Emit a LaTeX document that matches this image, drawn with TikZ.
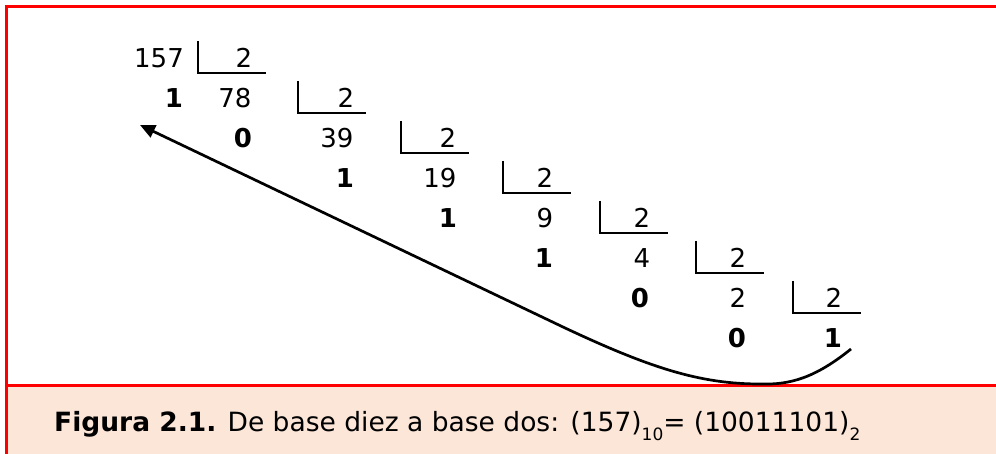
\documentclass[tikz,border=0pt]{standalone}
\usepackage{fontspec}
\setmainfont{DejaVu Sans}
\usetikzlibrary{arrows.meta}
\definecolor{framered}{RGB}{255,0,0}
\definecolor{capfill}{RGB}{251,230,216}
\newcommand{\subnum}[1]{\raisebox{-9pt}{\fontsize{17}{20}\selectfont #1}}
\begin{document}
\begin{tikzpicture}[x=1pt,y=-1pt,
  num/.style={inner sep=0pt, anchor=base, font=\fontsize{26}{30}\selectfont},
  rem/.style={inner sep=0pt, anchor=base, font=\fontsize{26}{30}\selectfont\bfseries},
  bracket/.style={line width=2.4pt},
  frame/.style={draw=framered, line width=3pt},
  arrowline/.style={line width=2.7pt, -{Triangle[length=15pt,width=13pt]}}]
\useasboundingbox (0,0) rectangle (996,454);
\fill[capfill] (6,385) rectangle (996,454);
\draw[frame] (996,7) -- (6.5,7) -- (6.5,454);
\draw[frame] (6.5,385) -- (996,385);
% quotients
\node[num] (q0) at (159,68) {157};
\node[num] (q1) at (235,108) {78};
\node[num] (q2) at (337,148) {39};
\node[num] (q3) at (440,188) {19};
\node[num] (q4) at (545,228) {9};
\node[num] (q5) at (642,268) {4};
\node[num] (q6) at (738,308) {2};
\node[rem] (q7) at (833,348) {1};
% remainders
\node[rem] (r1) at (174,108) {1};
\node[rem] (r2) at (243,148) {0};
\node[rem] (r3) at (345,188) {1};
\node[rem] (r4) at (448,228) {1};
\node[rem] (r5) at (544,268) {1};
\node[rem] (r6) at (640,308) {0};
\node[rem] (r7) at (737,348) {0};
% divisors and brackets
\foreach \k/\bx/\dx in {0/198/244, 1/298/346, 2/401/448, 3/503/545, 4/600/642, 5/696/738, 6/793/834}{
  \node[num] (d\k) at (\dx,{68+40*\k}) {2};
  \draw[bracket] (\bx,{41+40*\k}) -- (\bx,{73+40*\k}) -- ({\bx+68},{73+40*\k});
}
% arrow
\coordinate (tail) at (851,349);
\coordinate (tip) at (140,125);
\draw[arrowline] (tail) .. controls (815,378) and (790,385) .. (760,384)
  .. controls (700,384) and (650,368) .. (563,327) -- (tip);
% caption
\node[anchor=base west, inner sep=0pt, font=\fontsize{26.5}{30}\selectfont] (cap) at (54,431)
  {\textbf{Figura 2.1.} De base diez a base dos: (157)\subnum{10}= (10011101)\subnum{2}};
\end{tikzpicture}
\end{document}
